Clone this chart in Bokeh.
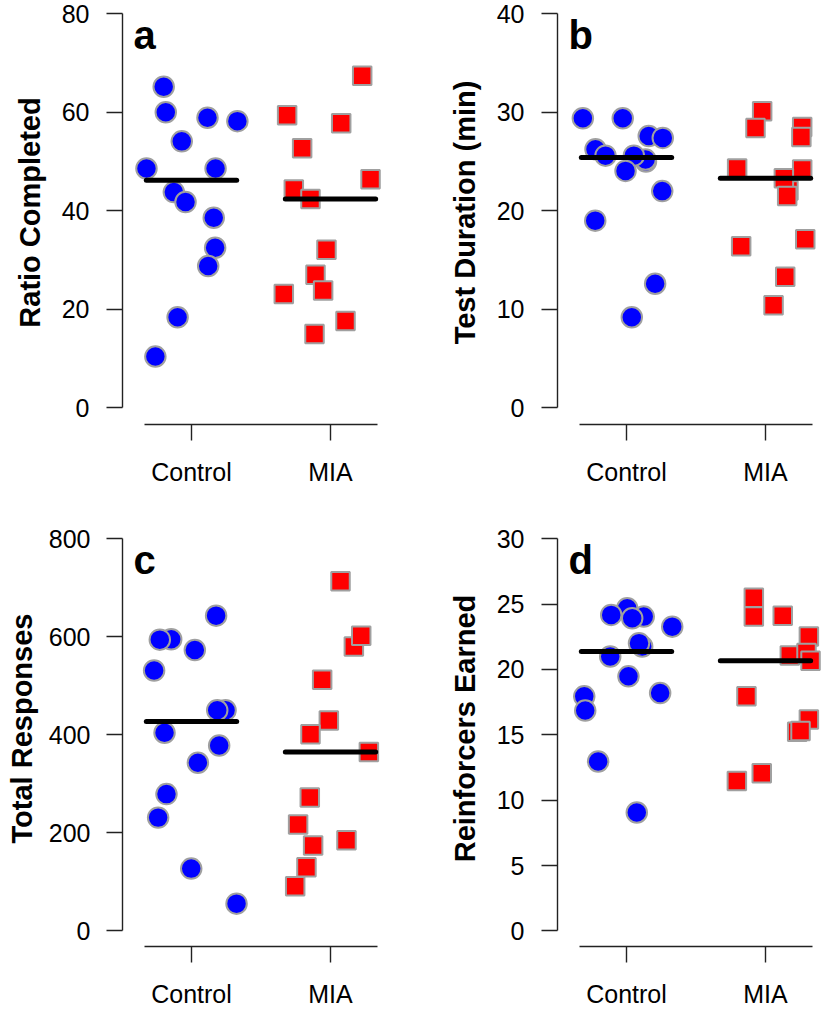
import numpy as np
from bokeh.plotting import figure
from bokeh.models import FixedTicker, Range1d, Label
from bokeh.layouts import row, column
from bokeh.embed import file_html
from bokeh.resources import INLINE

groups = ["Control", "MIA"]

# ---- Panel a: Ratio Completed ----
a_ctrl_x = [0.80, 0.815, 1.115, 1.33, 0.93, 0.676, 1.173, 0.873, 0.957, 1.16, 1.17, 1.12, 0.90, 0.74]
a_ctrl_y = [65.2, 60.0, 58.9, 58.2, 54.1, 48.6, 48.6, 43.8, 41.8, 38.6, 32.5, 28.8, 18.4, 10.4]
a_mia_x = [2.228, 1.688, 2.077, 1.796, 2.288, 1.736, 1.856, 1.971, 1.892, 1.947, 1.664, 2.108, 1.885]
a_mia_y = [67.4, 59.4, 57.8, 52.7, 46.4, 44.3, 42.4, 32.1, 27.0, 23.8, 23.1, 17.6, 15.0]

# ---- Panel b: Test Duration (min) ----
b_ctrl_x = [1.14, 0.686, 0.973, 1.16, 1.261, 0.777, 0.849, 1.137, 1.053, 0.993, 1.257, 0.775, 1.206, 1.038]
b_ctrl_y = [25.0, 29.4, 29.4, 27.6, 27.4, 26.25, 25.6, 25.2, 25.6, 24.05, 22.0, 19.0, 12.6, 9.2]
b_mia_x = [1.976, 1.928, 2.264, 2.258, 1.796, 2.264, 2.165, 2.132, 2.156, 1.825, 2.286, 2.142, 2.058]
b_mia_y = [30.1, 28.4, 28.5, 27.5, 24.3, 24.2, 22.05, 23.3, 21.5, 16.4, 17.1, 13.3, 10.4]

# ---- Panel c: Total Responses ----
c_ctrl_x = [1.177, 0.854, 0.772, 1.024, 0.731, 1.245, 1.185, 0.806, 1.199, 1.046, 0.82, 0.76, 0.998, 1.324]
c_ctrl_y = [643, 595, 594, 573, 531, 450, 450, 404, 378, 343, 279, 231, 127, 55.5]
c_mia_x = [2.072, 2.168, 2.221, 1.94, 1.988, 1.856, 2.276, 1.851, 1.767, 2.115, 1.875, 1.827, 1.746]
c_mia_y = [713, 580, 602, 512, 429, 401, 365, 272, 217, 185, 174, 130, 91]

# ---- Panel d: Reinforcers Earned ----
d_ctrl_x = [1.005, 0.89, 1.124, 1.041, 1.329, 1.113, 1.09, 0.883, 1.014, 1.242, 0.696, 0.703, 0.796, 1.074]
d_ctrl_y = [24.68, 24.17, 24.04, 23.91, 23.27, 21.75, 22.01, 20.99, 19.47, 18.2, 17.94, 16.85, 12.95, 9.06]
d_mia_x = [1.916, 1.916, 2.124, 2.312, 2.175, 2.295, 2.324, 1.863, 2.312, 2.228, 2.252, 1.973, 1.794]
d_mia_y = [25.48, 24.04, 24.11, 22.51, 21.07, 21.25, 20.66, 17.94, 16.17, 15.23, 15.28, 12.06, 11.47]

y_labels = ["Ratio Completed", "Test Duration (min)", "Total Responses", "Reinforcers Earned"]
y_max = [80, 40, 800, 30]
y_step = [20, 10, 200, 5]
tags = ["a", "b", "c", "d"]

FONT = "Liberation Sans"
PX_PER_X = 139.0


def make_panel(cx, cy, mx, my, ymax, ystep, ylabel, tag, frame_left, top_row,
               label_standoff, tick_standoff=17):
    W = 413
    if top_row:
        H, ftop, zero_px, axis_px = 500, 0, 407.3, 424.0
    else:
        H, ftop, zero_px, axis_px = 510, 10, 432.3, 448.0
    sy = 394.0 / ymax
    ys = -(axis_px - zero_px) / sy
    ye = (zero_px - ftop) / sy
    xs = 1 - 69.0 / PX_PER_X
    xe = xs + (W - frame_left) / PX_PER_X

    p = figure(width=W, height=H, x_range=Range1d(xs, xe), y_range=Range1d(ys, ye),
               output_backend="svg", toolbar_location=None,
               min_border_left=frame_left, min_border_right=0,
               min_border_top=ftop, min_border_bottom=H - int(round(axis_px)),
               outline_line_color=None, background_fill_color="white",
               border_fill_color="white")
    p.grid.visible = False

    xa = p.xaxis[0]
    xa.ticker = FixedTicker(ticks=[1, 2])
    xa.major_label_overrides = {1: groups[0], 2: groups[1]}
    xa.bounds = (0.662, 2.338)
    ya = p.yaxis[0]
    ya.ticker = FixedTicker(ticks=list(range(0, ymax + 1, ystep)))
    ya.bounds = (0, ymax)
    ya.axis_label = ylabel
    ya.axis_label_text_font = FONT
    ya.axis_label_text_font_size = "29px"
    ya.axis_label_text_font_style = "bold"
    ya.axis_label_text_color = "black"
    ya.axis_label_standoff = label_standoff
    for ax in (xa, ya):
        ax.axis_line_color = "#222222"
        ax.axis_line_width = 1.4
        ax.major_tick_line_color = "#222222"
        ax.major_tick_line_width = 1.4
        ax.major_tick_out = 16
        ax.major_tick_in = 0
        ax.minor_tick_line_color = None
        ax.major_label_text_font = FONT
        ax.major_label_text_font_size = "25px"
        ax.major_label_text_color = "black"
        ax.major_label_standoff = 17
    ya.major_label_standoff = tick_standoff

    p.scatter(cx, cy, marker="circle", size=20.5, fill_color="#0000ff",
              line_color="#a0a0a0", line_width=2)
    p.scatter(mx, my, marker="square", size=18.5, fill_color="#ff0000",
              line_color="#a0a0a0", line_width=2)

    meds = [float(np.median(cy)), float(np.median(my))]
    p.segment(x0=[1 - 0.325, 2 - 0.325], y0=meds, x1=[1 + 0.325, 2 + 0.325], y1=meds,
              line_color="black", line_width=5, line_cap="round")

    p.add_layout(Label(x=xs + 11 / PX_PER_X, y=ymax * 0.945, text=tag,
                       text_font=FONT, text_font_size="40px", text_font_style="bold",
                       text_color="black", text_baseline="alphabetic", text_align="left"))
    return p


pa = make_panel(a_ctrl_x, a_ctrl_y, a_mia_x, a_mia_y, y_max[0], y_step[0], y_labels[0], tags[0], 122, True, 13)
pb = make_panel(b_ctrl_x, b_ctrl_y, b_mia_x, b_mia_y, y_max[1], y_step[1], y_labels[1], tags[1], 144, True, 13)
pc = make_panel(c_ctrl_x, c_ctrl_y, c_mia_x, c_mia_y, y_max[2], y_step[2], y_labels[2], tags[2], 122, False, 8, 16)
pd = make_panel(d_ctrl_x, d_ctrl_y, d_mia_x, d_mia_y, y_max[3], y_step[3], y_labels[3], tags[3], 144, False, 13)

layout = column(row(pa, pb), row(pc, pd))
open("out.html", "w").write(file_html(layout, INLINE))
